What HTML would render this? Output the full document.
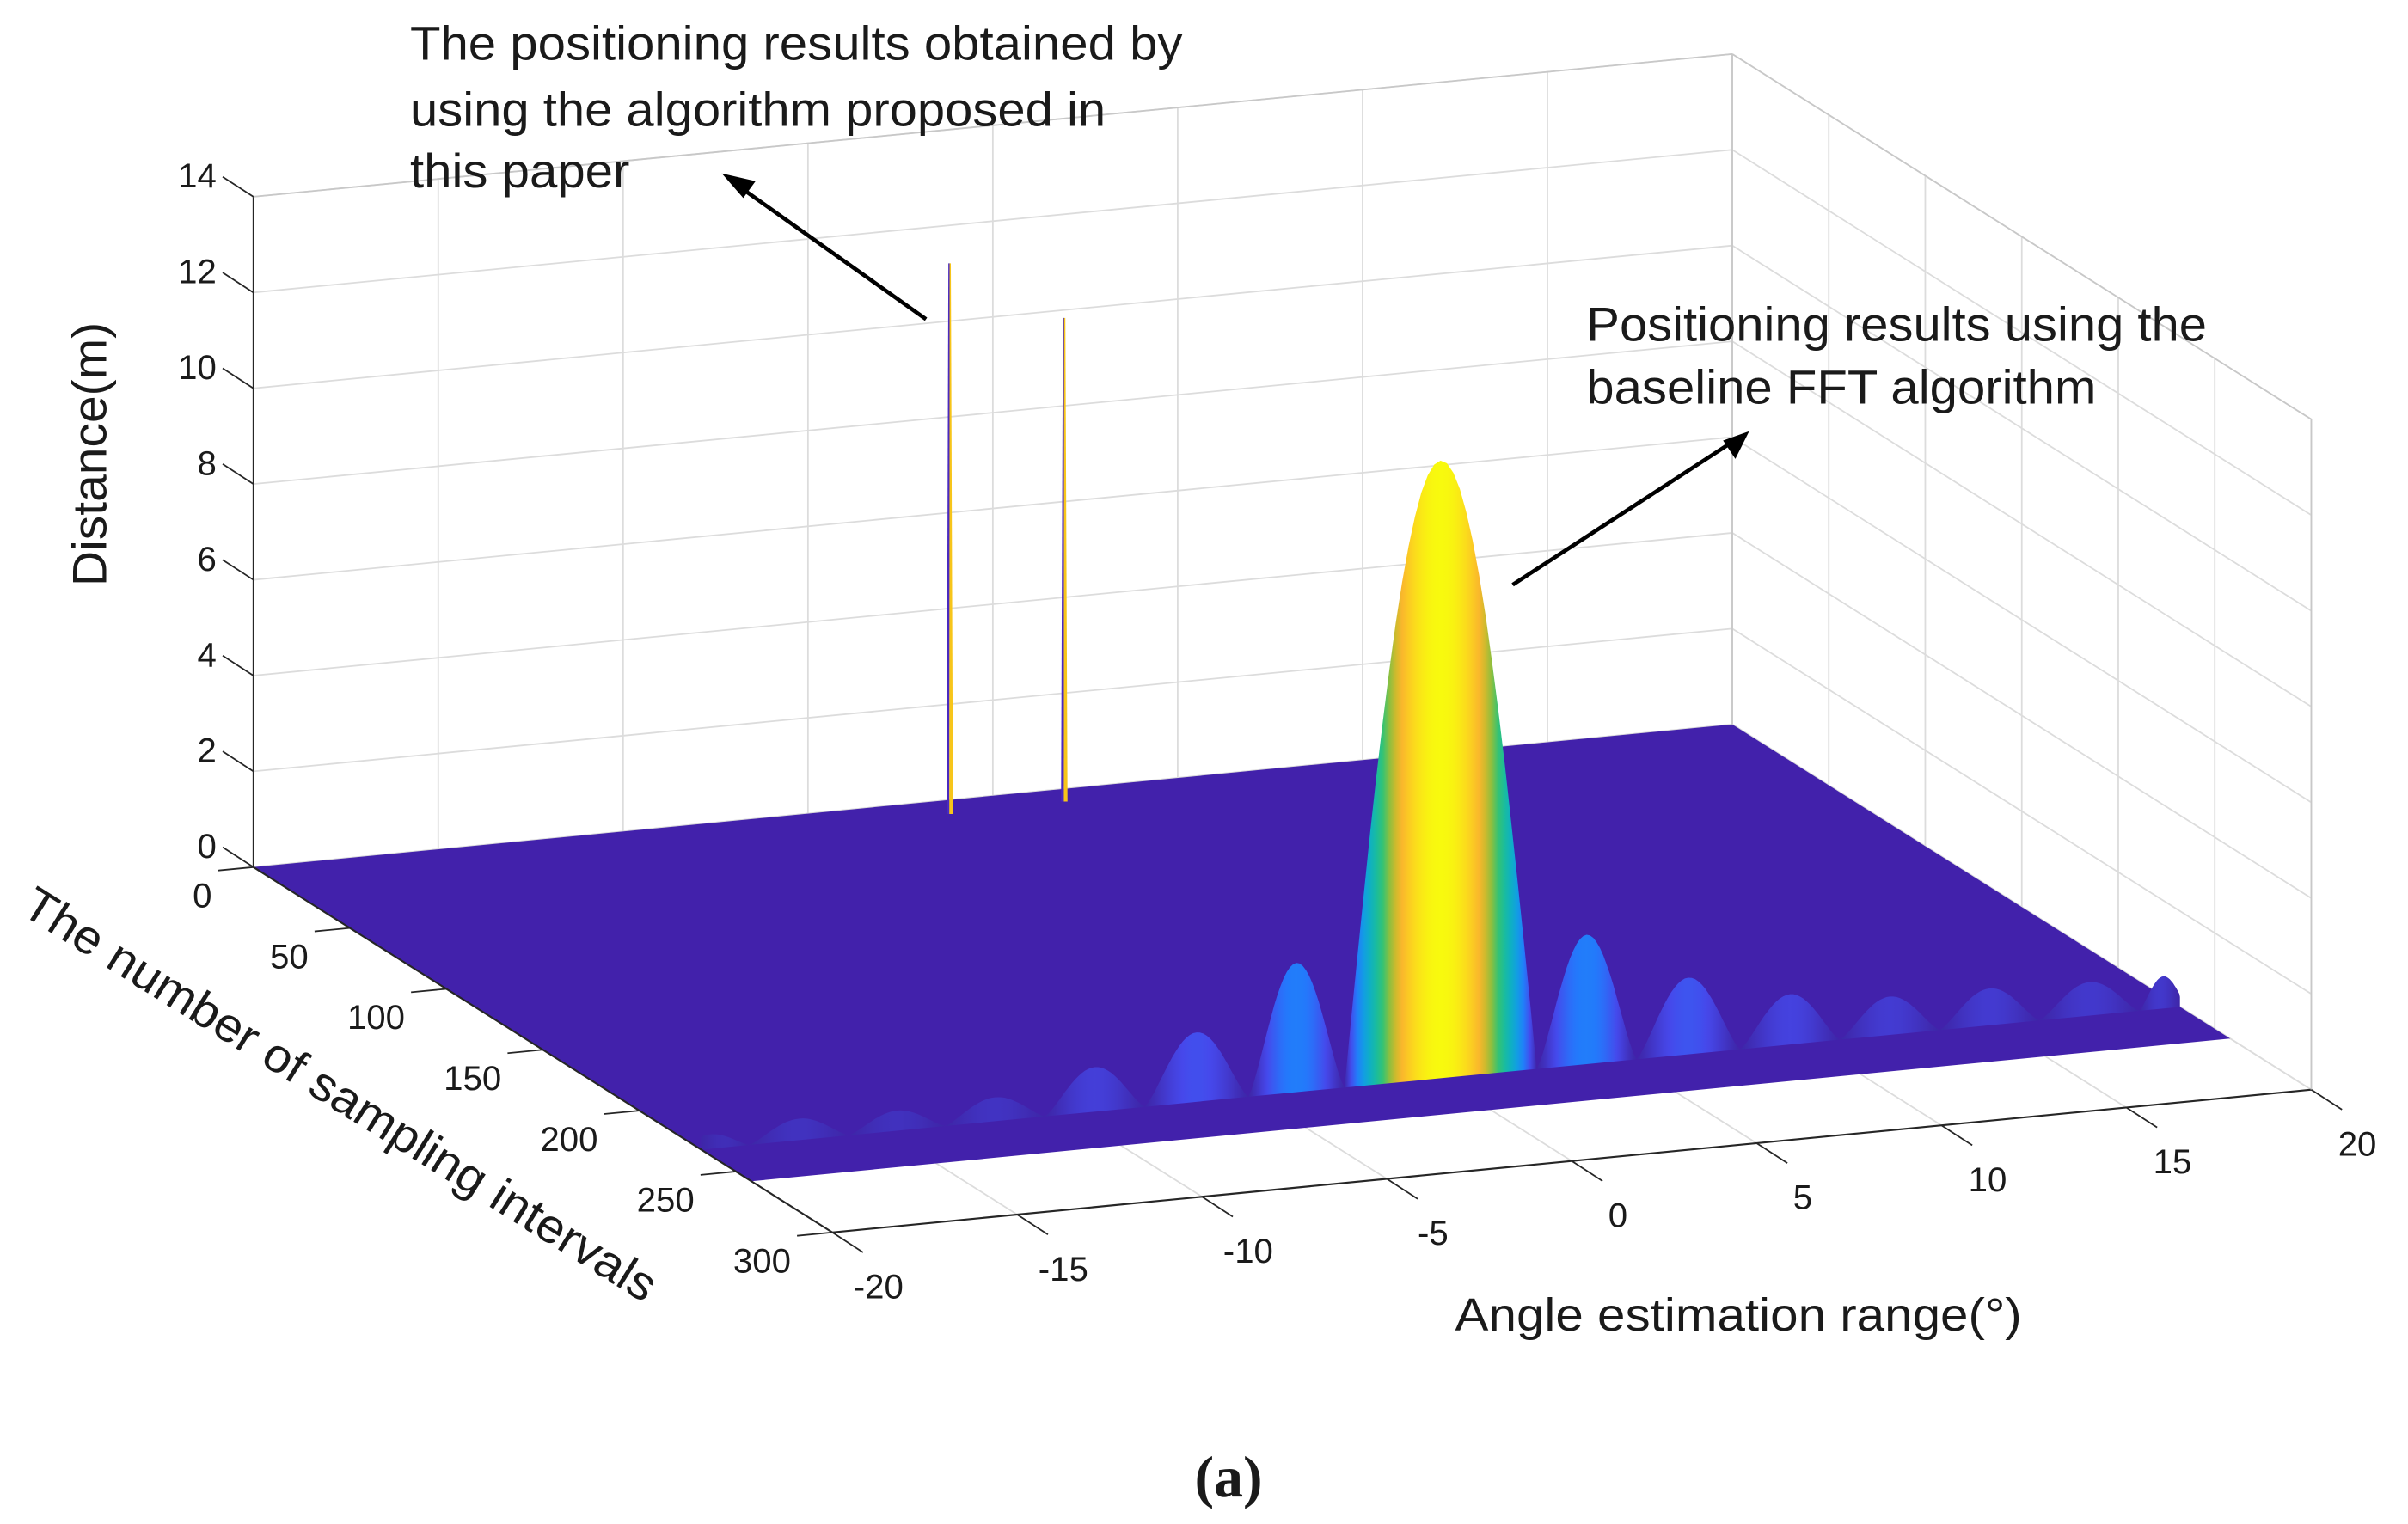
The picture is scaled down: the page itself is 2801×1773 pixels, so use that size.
<!DOCTYPE html>
<html><head><meta charset="utf-8"><style>
html,body{margin:0;padding:0;background:#fff;}
svg{display:block;}
text{font-family:"Liberation Sans",sans-serif;fill:#1a1a1a;}
</style></head><body>
<svg id="chart" width="2801" height="1773" viewBox="0 0 1568 993" preserveAspectRatio="none" xmlns="http://www.w3.org/2000/svg">
<defs id="defs"></defs>
<g id="grid"></g>
<g id="surface"></g>
<g id="axes"></g>
<text x="0" y="0" font-size="31" text-anchor="middle" textLength="172" lengthAdjust="spacingAndGlyphs" transform="translate(69,296) rotate(-90)">Distance(m)</text>
<text x="0" y="0" font-size="31" text-anchor="middle" textLength="480" lengthAdjust="spacingAndGlyphs" transform="translate(216,722) rotate(32)">The number of sampling intervals</text>
<text x="1132" y="867" font-size="30" text-anchor="middle" textLength="369" lengthAdjust="spacingAndGlyphs">Angle estimation range(°)</text>
<g font-size="31">
<text x="267" y="39" textLength="503" lengthAdjust="spacingAndGlyphs">The positioning results obtained by</text>
<text x="267" y="82" textLength="453" lengthAdjust="spacingAndGlyphs">using the algorithm proposed in</text>
<text x="267" y="122" textLength="143" lengthAdjust="spacingAndGlyphs">this paper</text>
</g>
<g font-size="31">
<text x="1033" y="222" textLength="404" lengthAdjust="spacingAndGlyphs">Positioning results using the</text>
<text x="1033" y="263" textLength="332" lengthAdjust="spacingAndGlyphs">baseline FFT algorithm</text>
</g>
<g>
<line x1="603" y1="208" x2="482" y2="122" stroke="#000" stroke-width="2.6"/>
<polygon points="470,113 492,118 484,129" fill="#000"/>
</g>
<g>
<line x1="985" y1="381" x2="1128" y2="288" stroke="#000" stroke-width="2.6"/>
<polygon points="1139,281 1130,299 1122,287" fill="#000"/>
</g>
<text x="800" y="975" font-size="38" font-weight="bold" text-anchor="middle" style="font-family:'Liberation Serif',serif">(a)</text>
</svg>
<script>
// ---- data ----
const xTicks = [-20,-15,-10,-5,0,5,10,15,20];
const yTicks = [0,50,100,150,200,250,300];
const zTicks = [0,2,4,6,8,10,12,14];
const lobeZeros = [-20.8,-18.7,-16,-13.4,-10.7,-8,-5.2,-2.6,2.6,5.3,8.1,10.8,13.5,16.2,18.9,20.2];
const lobeHeights = [0.3,0.45,0.42,0.5,0.93,1.45,2.7,12.9,2.7,1.6,1.05,0.8,0.77,0.7,0.67];
const ridgeSample = 232;
const spikeAngles = [-1.7,1.45];
const spikeSamples = [10,9];
const spikeHeights = [11.5,10.1];
const surfaceSampleMax = 258;

// ---- projection ----
const NS='http://www.w3.org/2000/svg';
const B1=[165,565], B2=[1128,472], F2=[1505,710];
const ZPX=31.2;
function P(a,s,z){
  const ta=(a+20)/40, ts=s/300;
  return [B1[0]+ta*(B2[0]-B1[0])+ts*(F2[0]-B2[0]), B1[1]+ta*(B2[1]-B1[1])+ts*(F2[1]-B2[1])-z*ZPX];
}
function el(tag,attrs,parent){const e=document.createElementNS(NS,tag);for(const k in attrs)e.setAttribute(k,attrs[k]);parent.appendChild(e);return e;}
const grid=document.getElementById('grid'), surf=document.getElementById('surface'), axes=document.getElementById('axes'), defs=document.getElementById('defs');
function ln(p,q,col,w,parent,name){const l=el('line',{x1:p[0],y1:p[1],x2:q[0],y2:q[1],stroke:col,'stroke-width':w},parent);


return l;}

// grid
const G='#dcdcdc';
xTicks.forEach(a=>{ln(P(a,0,0),P(a,0,14),G,1,grid,'back-wall-gridline');ln(P(a,0,0),P(a,300,0),G,1,grid,'floor-gridline');});
zTicks.forEach(z=>{ln(P(-20,0,z),P(20,0,z),G,1,grid,'back-wall-gridline');ln(P(20,0,z),P(20,300,z),G,1,grid,'side-wall-gridline');});
yTicks.forEach(s=>{ln(P(20,s,0),P(20,s,14),G,1,grid,'side-wall-gridline');ln(P(-20,s,0),P(20,s,0),G,1,grid,'floor-gridline');});

// parula-like colormap
const cm=[[0,[62,38,168]],[0.1,[70,72,235]],[0.2,[35,122,252]],[0.32,[16,160,226]],[0.45,[14,184,180]],[0.58,[45,195,120]],[0.7,[170,190,45]],[0.8,[250,180,45]],[0.9,[252,214,30]],[1,[248,250,14]]];
function parula(v){v=Math.max(0,Math.min(1,v));for(let i=1;i<cm.length;i++){if(v<=cm[i][0]){const a=cm[i-1],b=cm[i],t=(v-a[0])/(b[0]-a[0]);return 'rgb('+a[1].map((c,k)=>Math.round(c+t*(b[1][k]-c))).join(',')+')';}}return 'rgb(248,250,14)';}
const zMax=Math.max(...lobeHeights);

// floor
const fl=el('polygon',{points:[P(-20,0,0),P(20,0,0),P(20,surfaceSampleMax,0),P(-20,surfaceSampleMax,0)].map(p=>p.join(',')).join(' '),fill:'#4221ab'},surf);



// lobes
lobeHeights.forEach((h,i)=>{
  const a0=lobeZeros[i], a1=lobeZeros[i+1];
  const gid='lg'+i;
  const g=el('linearGradient',{id:gid,x1:'0',y1:'0',x2:'1',y2:'0'},defs);
  const N=30, pts=[];
  const pw = h>5 ? 1.0 : 1.3;
  for(let k=0;k<=N;k++){
    const u=k/N, a=a0+u*(a1-a0);
    const z=h*Math.pow(Math.sin(Math.PI*u),pw);
    const ac=Math.max(-20,Math.min(20,a));
    pts.push(P(ac,ridgeSample,z));
    el('stop',{offset:u,'stop-color':parula(z/zMax)},g);
  }
  pts.push(P(Math.min(20,a1),ridgeSample,0));pts.push(P(Math.max(-20,a0),ridgeSample,0));
  const poly=el('polygon',{points:pts.map(p=>p[0].toFixed(1)+','+p[1].toFixed(1)).join(' '),fill:'url(#'+gid+')'},surf);
  
  
});

// spikes
spikeAngles.forEach((a,i)=>{
  const b=P(a,spikeSamples[i],0), t=P(a,spikeSamples[i],spikeHeights[i]);
  const g=el('g',{},surf);
  
  
  el('polygon',{points:`${b[0]-1.8},${b[1]} ${b[0]},${b[1]} ${t[0]+0.3},${t[1]} ${t[0]-0.6},${t[1]}`,fill:'#4a2ac0'},g);
  el('polygon',{points:`${b[0]},${b[1]} ${b[0]+2.4},${b[1]} ${t[0]+1},${t[1]} ${t[0]+0.2},${t[1]}`,fill:'#f7c51a'},g);
});

// axes
const D='#262626';
ln(P(-20,0,0),P(-20,0,14),D,1,axes,'z-axis-line');
ln(P(-20,0,0),P(-20,300,0),D,1.2,axes,'y-axis-line');
ln(P(-20,300,0),P(20,300,0),D,1.2,axes,'x-axis-line');
ln(P(20,0,0),P(20,0,14),'#c8c8c8',1,axes,'box-edge');
ln(P(20,0,14),P(20,300,14),'#c8c8c8',1,axes,'box-edge');
ln(P(20,300,0),P(20,300,14),'#c8c8c8',1,axes,'box-edge');
ln(P(-20,0,14),P(20,0,14),'#c8c8c8',1,axes,'box-edge');
function txt(x,y,s,anchor,name){const t=el('text',{x:x,y:y,'font-size':22.5,'text-anchor':anchor},axes);t.textContent=s;

}
zTicks.forEach(z=>{const b=P(-20,0,z), e=[b[0]-20,b[1]-13];ln(b,e,D,1,axes,'z-tick');txt(e[0]-4,e[1]+7,String(z),'end','z-tick-label');});
yTicks.forEach(s=>{const b=P(-20,s,0), e=[b[0]-23,b[1]+2.2];ln(b,e,D,1,axes,'y-tick');txt(e[0]-4,e[1]+24,String(s),'end','y-tick-label');});
xTicks.forEach(a=>{const b=P(a,300,0), e=[b[0]+20,b[1]+13];ln(b,e,D,1,axes,'x-tick');txt(e[0]+10,e[1]+30,String(a),'middle','x-tick-label');});
</script>
</body></html>
